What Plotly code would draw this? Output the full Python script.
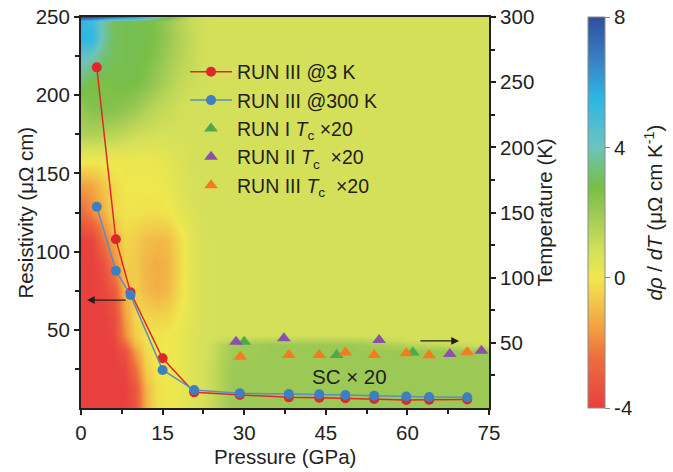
import plotly.graph_objects as go

# ---------------- data ----------------
pressure_run3 = [2.9, 6.4, 9.1, 15.0, 20.8, 29.2, 38.2, 43.8, 48.6, 53.9, 59.8, 64.0, 71.0]
rho_3K = [217.8, 107.9, 74.0, 31.8, 10.0, 8.3, 6.8, 6.6, 6.2, 5.8, 5.1, 5.3, 5.5]
rho_300K = [128.7, 87.8, 72.2, 24.3, 11.5, 9.4, 9.0, 8.8, 8.3, 7.9, 7.3, 7.0, 6.8]

run1_p = [30.0, 47.0, 61.0]
run1_tc20 = [50.9, 40.7, 42.5]
run2_p = [28.5, 37.3, 54.8, 67.8, 73.6]
run2_tc20 = [50.9, 53.5, 52.2, 41.4, 44.0]
run3_p = [29.3, 38.2, 43.8, 48.6, 53.9, 59.8, 64.0, 71.0]
run3_tc20 = [39.4, 40.7, 40.7, 42.5, 40.7, 42.0, 40.4, 42.7]

# dρ/dT map (pressure columns x temperature rows)
map_p = [0, 2, 4, 6, 8, 10, 12, 14, 16, 18, 20, 22, 24, 26, 28, 35, 50, 62, 75]
map_t = [0, 15, 30, 44, 48, 52, 56, 70, 90, 110, 130, 150, 170, 190, 210, 230, 250, 270, 285, 297, 300]
map_z = [
    [-4, -4, -4, -4, -4, -3.4, -1.2, -0.2, 0, 0.2, 0.5, 0.7, 1.1, 1.6, 2, 2, 2, 2, 2],
    [-4, -4, -4, -4, -4, -3.2, -1.1, -0.2, 0, 0.2, 0.5, 0.7, 1.1, 1.6, 2, 2, 2, 2, 2],
    [-4, -4, -4, -4, -3.8, -2.5, -0.6, 0, 0, 0.2, 0.5, 0.7, 1.1, 1.6, 2, 2, 2, 2, 2],
    [-4, -4, -4, -4, -3.3, -1.6, -0.3, 0, 0, 0.2, 0.5, 0.7, 1.0, 1.5, 1.9, 2, 2, 2, 2],
    [-4, -4, -4, -3.9, -2.7, -1.1, -0.2, 0, 0, 0.2, 0.5, 0.7, 1.0, 1.5, 1.9, 2, 2, 1.4, 0.9],
    [-4, -4, -4, -3.8, -2.2, -0.8, -0.1, -0.1, 0, 0.2, 0.5, 0.7, 0.8, 1.0, 1.3, 1.4, 1.4, 0.8, 0.8],
    [-4, -4, -4, -3.7, -1.9, -0.6, -0.1, -0.1, 0, 0.2, 0.5, 0.7, 0.8, 0.8, 0.8, 0.8, 0.8, 0.8, 0.8],
    [-4, -4, -4, -3.6, -1.5, -0.4, -0.4, -0.5, -0.4, 0, 0.4, 0.7, 0.8, 0.8, 0.8, 0.8, 0.8, 0.8, 0.8],
    [-4, -4, -3.8, -3.1, -1.0, -0.6, -1.0, -1.2, -1.0, -0.3, 0.3, 0.7, 0.8, 0.8, 0.8, 0.8, 0.8, 0.8, 0.8],
    [-4, -4, -3.5, -2.0, -0.6, -0.7, -1.1, -1.3, -1.1, -0.4, 0.3, 0.7, 0.8, 0.8, 0.8, 0.8, 0.8, 0.8, 0.8],
    [-4, -3.8, -2.4, -1.2, -0.4, -0.6, -0.9, -1.0, -0.9, -0.3, 0.3, 0.7, 0.8, 0.8, 0.8, 0.8, 0.8, 0.8, 0.8],
    [-2.6, -2.0, -1.2, -0.4, -0.1, -0.1, -0.2, -0.2, -0.1, 0.3, 0.6, 0.8, 0.8, 0.8, 0.8, 0.8, 0.8, 0.8, 0.8],
    [-1.6, -1.4, -0.8, -0.3, 0, 0, 0, 0, 0.2, 0.5, 0.7, 0.8, 0.8, 0.8, 0.8, 0.8, 0.8, 0.8, 0.8],
    [0.1, 0.1, 0.1, 0.1, 0.1, 0.1, 0.1, 0.2, 0.4, 0.6, 0.8, 0.8, 0.8, 0.8, 0.8, 0.8, 0.8, 0.8, 0.8],
    [1.6, 1.6, 1.5, 1.4, 1.2, 1.0, 0.9, 0.8, 0.8, 0.8, 0.8, 0.8, 0.8, 0.8, 0.8, 0.8, 0.8, 0.8, 0.8],
    [2.2, 2.5, 2.6, 2.5, 2.3, 2.0, 1.6, 1.3, 1.1, 0.9, 0.8, 0.8, 0.8, 0.8, 0.8, 0.8, 0.8, 0.8, 0.8],
    [3.2, 2.8, 2.7, 2.8, 2.9, 2.8, 2.5, 2.0, 1.6, 1.2, 1.0, 0.9, 0.8, 0.8, 0.8, 0.8, 0.8, 0.8, 0.8],
    [4.3, 4.0, 3.3, 3.0, 2.9, 2.9, 2.8, 2.4, 1.9, 1.5, 1.2, 0.9, 0.8, 0.8, 0.8, 0.8, 0.8, 0.8, 0.8],
    [5.6, 5.4, 3.8, 3.0, 2.9, 2.9, 2.9, 2.6, 2.1, 1.6, 1.2, 0.9, 0.8, 0.8, 0.8, 0.8, 0.8, 0.8, 0.8],
    [5.4, 5.0, 3.8, 3.0, 2.9, 2.9, 2.8, 2.5, 2.0, 1.5, 1.1, 0.9, 0.8, 0.8, 0.8, 0.8, 0.8, 0.8, 0.8],
    [8, 8, 7.5, 7, 6.5, 6, 5, 4, 3, 2, 1.2, 0.9, 0.8, 0.8, 0.8, 0.8, 0.8, 0.8, 0.8],
]

x_ticks = [0, 15, 30, 45, 60, 75]
rho_ticks = [50, 100, 150, 200, 250]
temp_ticks = [50, 100, 150, 200, 250, 300]
cbar_ticks = [-4, 0, 4, 8]
cbar_labels = ["-4", "0", "4", "8"]

# ---------------- style ----------------
FONT = "Liberation Sans, Arial, Helvetica, sans-serif"
TXT = "#231f20"
FS = 20.5

colorscale = [
    [0.0, "#e8403f"],
    [0.125, "#ee6c3e"],
    [0.2083, "#f3a141"],
    [0.275, "#f2c94a"],
    [0.3333, "#efe84e"],
    [0.40, "#d5e05a"],
    [0.50, "#9cc955"],
    [0.5667, "#78be47"],
    [0.6667, "#6cc4bc"],
    [0.7917, "#2cb6e6"],
    [0.90, "#3a7cc2"],
    [1.0, "#2e4e9c"],
]

fig = go.Figure()

fig.add_trace(go.Heatmap(
    x=map_p, y=map_t, z=map_z, zmin=-4, zmax=8, zsmooth="best",
    colorscale=colorscale, xaxis="x", yaxis="y", hoverinfo="skip",
    colorbar=dict(
        x=1.2426, xanchor="left", xpad=0, y=0.5, yanchor="middle", ypad=0,
        len=1, lenmode="fraction", thickness=17,
        outlinecolor="#8a8a8a", outlinewidth=1,
        tickvals=cbar_ticks, ticktext=cbar_labels, ticks="outside", ticklen=5, tickcolor="#8a8a8a",
        ticklabeloverflow="allow",
        tickfont=dict(family=FONT, size=FS, color=TXT),
    ),
))

tri = dict(symbol="triangle-up", size=12)
fig.add_trace(go.Scatter(x=run1_p, y=run1_tc20, mode="markers", yaxis="y", legendrank=3,
                         marker=dict(color="#4caa4c", **tri),
                         name="RUN I <i>T</i><sub>c</sub> ×20"))
fig.add_trace(go.Scatter(x=run2_p, y=run2_tc20, mode="markers", yaxis="y", legendrank=4,
                         marker=dict(color="#8c50a8", **tri),
                         name="RUN II <i>T</i><sub>c</sub>  ×20"))
fig.add_trace(go.Scatter(x=run3_p, y=run3_tc20, mode="markers", yaxis="y", legendrank=5,
                         marker=dict(color="#f47b22", **tri),
                         name="RUN III <i>T</i><sub>c</sub>  ×20"))

fig.add_trace(go.Scatter(x=pressure_run3, y=rho_3K, mode="lines+markers", yaxis="y2", legendrank=1,
                         line=dict(color="#e0282c", width=1.5),
                         marker=dict(color="#e0282c", size=10),
                         name="RUN III @3 K"))
fig.add_trace(go.Scatter(x=pressure_run3, y=rho_300K, mode="lines+markers", yaxis="y2", legendrank=2,
                         line=dict(color="#5a8fc4", width=1.5),
                         marker=dict(color="#3d7fc0", size=10),
                         name="RUN III @300 K"))

axis_common = dict(showgrid=False, zeroline=False, showline=True, linecolor="#231f20", linewidth=2,
                   ticks="outside", ticklen=5, tickwidth=2, tickcolor="#231f20", automargin=False,
                   ticklabeloverflow="allow",
                   tickfont=dict(family=FONT, size=FS, color=TXT))

fig.update_layout(
    width=673, height=472,
    margin=dict(l=81, r=184, t=17, b=64, autoexpand=False),
    paper_bgcolor="white", plot_bgcolor="white",
    font=dict(family=FONT, size=FS, color=TXT),
    showlegend=True,
    legend=dict(x=0.255, y=0.909, xanchor="left", yanchor="top", bgcolor="rgba(0,0,0,0)",
                itemwidth=42,
                font=dict(family=FONT, size=19.5, color=TXT), tracegroupgap=0),
    xaxis=dict(range=[0, 75], tickvals=x_ticks, mirror=True,
               minor=dict(tickvals=[7.5, 22.5, 37.5, 52.5, 67.5], ticklen=4, tickwidth=1.5,
                          tickcolor="#231f20", ticks="outside"),
               **axis_common),
    yaxis=dict(range=[0, 300], side="right", tickvals=temp_ticks, mirror=True,
               minor=dict(tickvals=[25, 75, 125, 175, 225, 275], ticklen=4, tickwidth=1.5,
                          tickcolor="#231f20", ticks="outside"),
               **axis_common),
    yaxis2=dict(range=[0, 250], side="left", overlaying="y", tickvals=rho_ticks,
                minor=dict(tickvals=[25, 75, 125, 175, 225], ticklen=4, tickwidth=1.5,
                           tickcolor="#231f20", ticks="outside"),
                **axis_common),
)

title_font = dict(family=FONT, size=FS, color=TXT)
fig.add_annotation(x=0.5, y=-0.125, xref="paper", yref="paper", text="Pressure (GPa)",
                   showarrow=False, xanchor="center", yanchor="middle", font=title_font)
fig.add_annotation(x=-0.137, y=0.5, xref="paper", yref="paper", text="Resistivity (μΩ cm)",
                   showarrow=False, textangle=-90, xanchor="center", yanchor="middle", font=title_font)
fig.add_annotation(x=1.137, y=0.5, xref="paper", yref="paper", text="Temperature (K)",
                   showarrow=False, textangle=-90, xanchor="center", yanchor="middle", font=title_font)
fig.add_annotation(x=1.402, y=0.5, xref="paper", yref="paper",
                   text="<i>d</i><i>ρ</i> / <i>dT</i> (μΩ cm K<sup>-1</sup>)",
                   showarrow=False, textangle=-90, xanchor="center", yanchor="middle", font=title_font)

fig.add_annotation(x=1.1, y=69, ax=8.5, ay=69, xref="x", yref="y2", axref="x", ayref="y2",
                   showarrow=True, arrowhead=2, arrowsize=1.2, arrowwidth=1.3, arrowcolor="#231f20", text="")
fig.add_annotation(x=69.5, y=51.5, ax=62.1, ay=51.5, xref="x", yref="y", axref="x", ayref="y",
                   showarrow=True, arrowhead=2, arrowsize=1.2, arrowwidth=1.3, arrowcolor="#231f20", text="")
fig.add_annotation(x=49.4, y=23.8, xref="x", yref="y", text="SC × 20", showarrow=False,
                   font=dict(family=FONT, size=FS, color=TXT))

# remove the default 8 px page margin so the 673x472 figure fills the window exactly
fig.write_html("out.html", config={"displayModeBar": False},
               post_script="document.body.style.margin='0px';")
